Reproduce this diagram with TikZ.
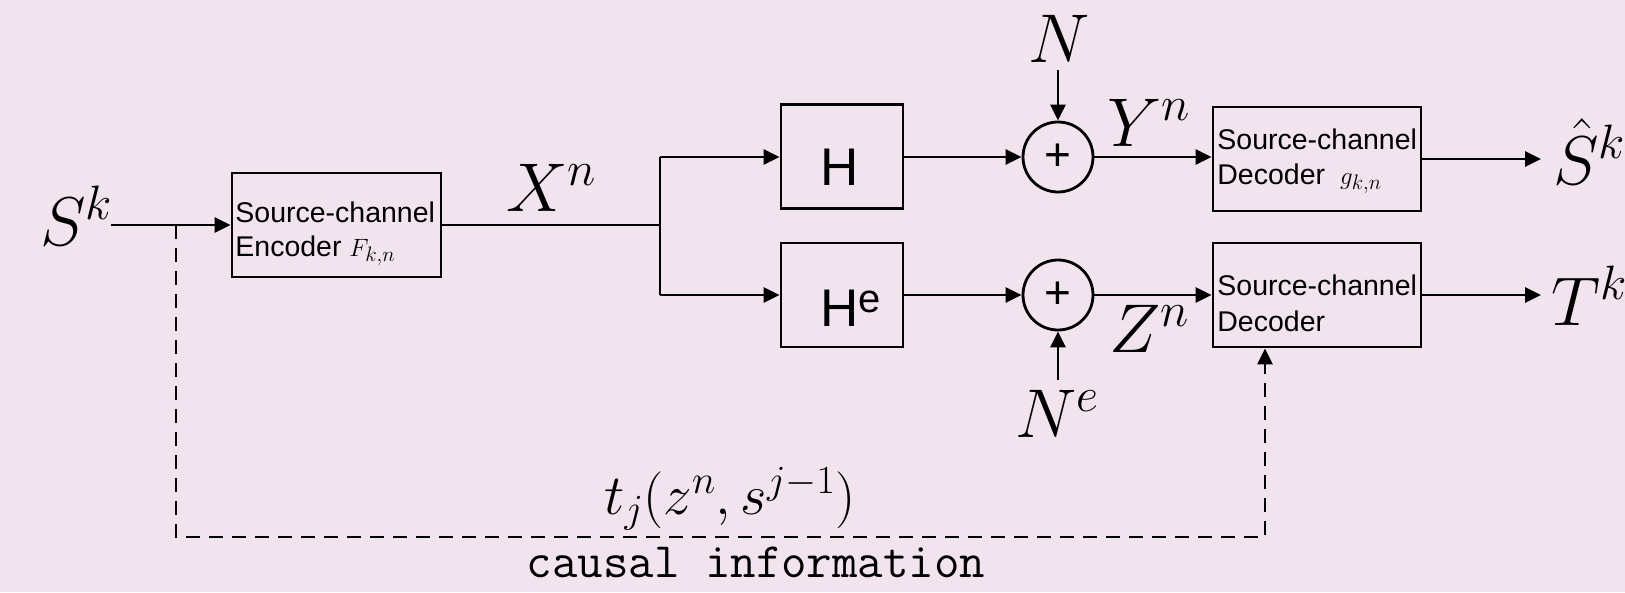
\RequirePackage{fix-cm}
\documentclass[tikz,border=0pt]{standalone}
\usepackage{fontspec}
\newfontfamily\arialf{Liberation Sans}
\usetikzlibrary{arrows.meta}
\definecolor{bgc}{RGB}{241,228,238}
\newcommand{\subtxt}[1]{\mbox{\fontsize{21}{23}\selectfont$#1$}}
\tikzset{
  every path/.style={line width=2.8pt},
  blk/.style={draw, rectangle, line width=2.8pt, minimum width=#1, minimum height=104pt, inner sep=0pt},
  sumc/.style={draw, circle, line width=2.8pt, minimum size=70pt, inner sep=0pt, font=\arialf\fontsize{46}{50}\selectfont},
  bigm/.style={inner sep=0pt, font=\fontsize{69}{80}\selectfont},
  boxtxt/.style={inner sep=0pt, anchor=base west, font=\arialf\fontsize{28.5}{34}\selectfont},
  htxt/.style={inner sep=0pt, anchor=base west, font=\arialf\fontsize{53}{60}\selectfont},
  arr/.style={-{Triangle[length=16pt,width=15pt]}},
  dsh/.style={dash pattern=on 14pt off 9pt}
}
\begin{document}
\begin{tikzpicture}[x=1pt,y=-1pt]
\fill[bgc] (0,0) rectangle (1625,592);
\useasboundingbox (0,0) rectangle (1625,592);

% blocks
\node[blk=209pt] (enc) at (336.5,225) {};
\node[blk=122pt] (H) at (842,156.5) {};
\node[blk=122pt] (He) at (842,295) {};
\node[sumc] (c1) at (1058,157) {+};
\node[sumc] (c2) at (1058,295) {+};
\node[blk=208pt] (dec1) at (1317,159) {};
\node[blk=208pt] (dec2) at (1317,295) {};

% block texts
\node[boxtxt] (encA) at (234,222) {Source-channel};
\node[boxtxt] (encB) at (234,256) {Encoder {\fontsize{25}{28}\selectfont$F_{\subtxt{k{,}n}}$}};
\node[htxt] (Ht) at (819,185) {H};
\node[htxt] (Het) at (819,326) {H\raisebox{14pt}{\fontsize{40}{44}\selectfont e}};
\node[boxtxt] (d1A) at (1216,149) {Source-channel};
\node[boxtxt] (d1B) at (1216,184) {Decoder\hspace{15pt}{\fontsize{25}{28}\selectfont$g_{\subtxt{k{,}n}}$}};
\node[boxtxt] (d2A) at (1216,295) {Source-channel};
\node[boxtxt] (d2B) at (1216,331) {Decoder};

% labels
\node[bigm, anchor=base west] (Sk) at (39,245) {$S^k$};
\node[bigm, anchor=base west] (Xn) at (505,211) {$X^n$};
\node[bigm, anchor=base] (N) at (1059,62) {$N$};
\node[bigm, anchor=base west] (Ne) at (1014,437) {$N^e$};
\node[bigm, anchor=base west] (Yn) at (1106,146) {$Y^n$};
\node[bigm, anchor=base west] (Zn) at (1108,352) {$Z^n$};
\node[bigm, anchor=base west] (Shat) at (1552,184) {$\hat{S}^k$};
\node[bigm, anchor=base west] (Tk) at (1550,325) {$T^k$};
\node[inner sep=0pt, anchor=base, font=\fontsize{57}{62}\selectfont] (tj) at (730,514) {$t_j(z^n,s^{j-1})$};
\node[inner sep=0pt, anchor=base, font=\ttfamily\fontsize{49.5}{55}\selectfont] (causal) at (756,577) {causal information};

% coordinates
\coordinate (in) at (111,225);
\coordinate (tap) at (176,225);
\coordinate (jn) at (660,225);
\coordinate (jt) at (660,157);
\coordinate (jb) at (660,295);
\coordinate (nin) at (1058,70);
\coordinate (nein) at (1058,380);
\coordinate (o1) at (1541,159);
\coordinate (o2) at (1541,295);
\coordinate (dl) at (176,537);
\coordinate (dr) at (1265,537);

% connectors
\draw[arr] (in) -- (enc.west);
\draw (enc.east) -- (jn);
\draw (jt) -- (jb);
\draw[arr] (jt) -- (jt -| H.west);
\draw[arr] (jb) -- (jb -| He.west);
\draw[arr] (H.east |- c1) -- (c1.west);
\draw[arr] (He.east |- c2) -- (c2.west);
\draw[arr] (nin) -- (c1.north);
\draw[arr] (nein) -- (c2.south);
\draw[arr] (c1.east) -- (c1.east -| dec1.west);
\draw[arr] (c2.east) -- (c2.east -| dec2.west);
\draw[arr] (dec1.east) -- (o1);
\draw[arr] (dec2.east) -- (o2);
\draw[arr, dsh] (tap) -- (dl) -- (dr) -- (dr |- dec2.south);
\end{tikzpicture}
\end{document}
